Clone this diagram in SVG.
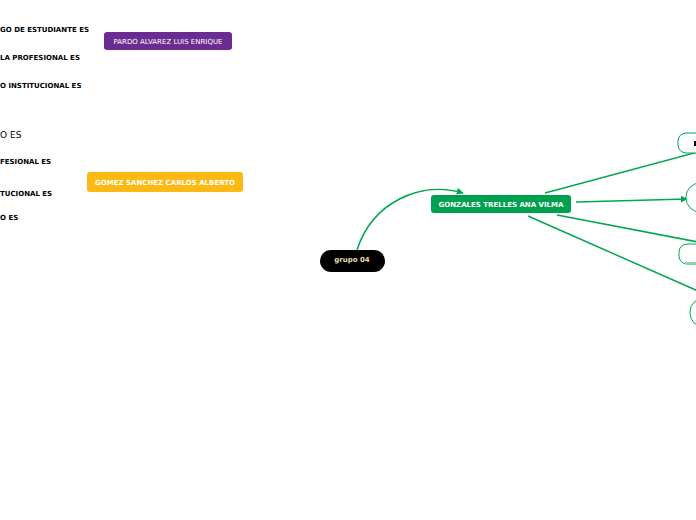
<svg xmlns="http://www.w3.org/2000/svg" width="696" height="520" viewBox="0 0 696 520">
<style>
.lbl{font-family:"DejaVu Sans","Liberation Sans",sans-serif;font-size:7px;font-weight:bold;fill:#000}
.wt{font-family:"DejaVu Sans","Liberation Sans",sans-serif;font-size:7px;fill:#fff;text-anchor:middle}
.con{fill:none;stroke:#00a651;stroke-width:1.5}
.out{fill:#fff;stroke:#00a651;stroke-width:1}
</style>
<defs>
<marker id="ah" viewBox="0 0 10 10" refX="9" refY="5" markerWidth="7" markerHeight="7" orient="auto" markerUnits="userSpaceOnUse">
<path d="M0,0 L10,5 L0,10 z" fill="#00a651"/>
</marker>
</defs>
<rect width="696" height="520" fill="#fff"/>
<g id="connectors">
<path class="con" d="M357,250 C372,203 420,180 463,193" marker-end="url(#ah)"/>
<path class="con" d="M545,193 L698,152"/>
<path class="con" d="M576,202 L687,199" marker-end="url(#ah)"/>
<path class="con" d="M557,215 L698,242"/>
<path class="con" d="M528,216 L698,291"/>
</g>
<g id="left-texts">
<text class="lbl" x="0" y="32">GO DE ESTUDIANTE ES</text>
<text class="lbl" x="0" y="60">LA PROFESIONAL ES</text>
<text class="lbl" x="0" y="88">O INSTITUCIONAL ES</text>
<text x="0" y="138" font-family="DejaVu Sans,Liberation Sans,sans-serif" font-size="9" fill="#000">O ES</text>
<text class="lbl" x="0" y="164">FESIONAL ES</text>
<text class="lbl" x="0" y="196">TUCIONAL ES</text>
<text class="lbl" x="0" y="220">O ES</text>
</g>
<g id="pardo">
<rect x="104" y="32" width="128" height="18" rx="3" fill="#6a2c91"/>
<text class="wt" x="168" y="44" style="font-size:7px">PARDO ALVAREZ LUIS ENRIQUE</text>
</g>
<g id="gomez">
<rect x="87" y="172" width="156" height="20" rx="3" fill="#fdb913"/>
<text class="wt" x="165" y="185" font-weight="bold">GOMEZ SANCHEZ CARLOS ALBERTO</text>
</g>
<g id="grupo04">
<rect x="320" y="250" width="65" height="22" rx="11" fill="#000"/>
<text x="352" y="262" text-anchor="middle" font-family="DejaVu Sans,Liberation Sans,sans-serif" font-size="7" font-weight="bold" fill="#eadcb0">grupo 04</text>
</g>
<g id="gonzales">
<rect x="431" y="195" width="140" height="18" rx="3" fill="#00a14e"/>
<text class="wt" x="501" y="207" font-weight="bold">GONZALES TRELLES ANA VILMA</text>
</g>
<g id="r1">
<rect class="out" x="678" y="133" width="40" height="20" rx="8"/>
<rect x="694" y="141" width="2" height="5" fill="#000"/>
</g>
<g id="r2">
<rect class="out" x="686" y="183" width="40" height="29" rx="14"/>
</g>
<g id="r3">
<rect class="out" x="679" y="244" width="40" height="20" rx="8"/>
<rect x="685" y="262" width="12" height="2" fill="#8fd3a8"/>
</g>
<g id="r4">
<rect class="out" x="690" y="298" width="40" height="29" rx="14"/>
</g>
</svg>
